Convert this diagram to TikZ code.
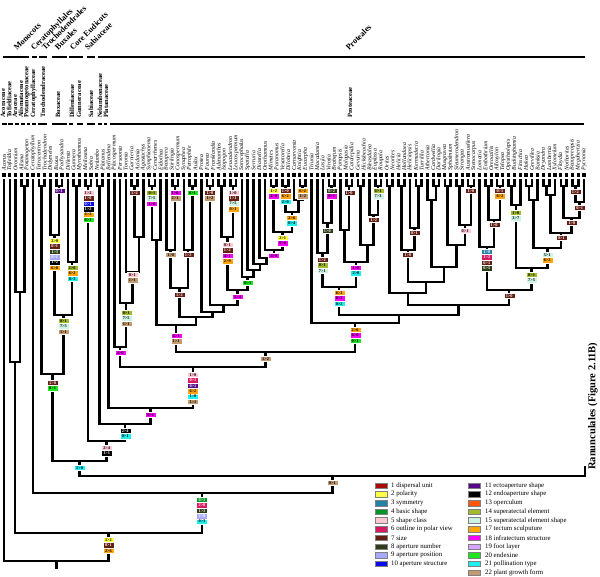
\documentclass[tikz,border=0pt]{standalone}
\usepackage{fontspec}
\setmainfont{Liberation Serif}
\usetikzlibrary{calc}
\definecolor{c1}{RGB}{170,10,10}
\definecolor{c2}{RGB}{255,255,70}
\definecolor{c3}{RGB}{35,130,165}
\definecolor{c4}{RGB}{0,150,40}
\definecolor{c5}{RGB}{255,200,210}
\definecolor{c6}{RGB}{215,25,95}
\definecolor{c7}{RGB}{100,30,20}
\definecolor{c8}{RGB}{45,60,25}
\definecolor{c9}{RGB}{165,170,255}
\definecolor{c10}{RGB}{10,10,235}
\definecolor{c11}{RGB}{85,10,135}
\definecolor{c12}{RGB}{0,0,0}
\definecolor{c13}{RGB}{255,85,10}
\definecolor{c14}{RGB}{160,185,45}
\definecolor{c15}{RGB}{205,242,228}
\definecolor{c17}{RGB}{255,165,10}
\definecolor{c18}{RGB}{255,0,255}
\definecolor{c19}{RGB}{215,165,255}
\definecolor{c20}{RGB}{30,230,30}
\definecolor{c21}{RGB}{30,240,240}
\definecolor{c22}{RGB}{195,155,115}
\tikzset{
  br/.style={line width=2.6pt, line join=miter},
  bar/.style={line width=2.4pt},
  taxon/.style={rotate=90, anchor=west, inner sep=0pt, font=\itshape\fontsize{5.8}{6}\selectfont},
  fam/.style={rotate=90, anchor=west, inner sep=0pt, font=\bfseries\fontsize{6.5}{7}\selectfont},
  grp/.style={rotate=45, anchor=base west, inner sep=0pt, font=\bfseries\fontsize{8.2}{9}\selectfont},
  cbox/.style={anchor=north, minimum width=11pt, minimum height=5.4pt, inner sep=0pt, draw=white, line width=0.2pt, font=\bfseries\fontsize{4.3}{4.3}\selectfont},
  sw/.style={draw=black!50, line width=0.3pt},
  leg/.style={anchor=west, inner sep=0pt, font=\fontsize{6.8}{7}\selectfont},
  k1/.style={fill=c1,text=white}, k2/.style={fill=c2}, k3/.style={fill=c3,text=white},
  k4/.style={fill=c4,text=white}, k5/.style={fill=c5}, k6/.style={fill=c6,text=white},
  k7/.style={fill=c7,text=white}, k8/.style={fill=c8,text=white}, k9/.style={fill=c9,text=white},
  k10/.style={fill=c10,text=white}, k11/.style={fill=c11,text=white}, k12/.style={fill=c12,text=white},
  k13/.style={fill=c13}, k14/.style={fill=c14}, k15/.style={fill=c15}, k17/.style={fill=c17},
  k18/.style={fill=c18}, k19/.style={fill=c19}, k20/.style={fill=c20}, k21/.style={fill=c21},
  k22/.style={fill=c22},
}
\newcommand\Lf[3]{%
  \pgfmathsetmacro\lfx{4+5.8*#2}%
  \coordinate (#1) at (\lfx,179);%
  \fill (\lfx-1.6,172.6) rectangle (\lfx+1.6,177.4);%
  \node[taxon] (n#1) at (\lfx,170.5) {#3};%
}
\newcommand\Nd[4]{%
  \path let \p1=(#3), \p2=(#4) in coordinate (#1) at ({0.5*\x1+0.5*\x2},{-#2pt});%
  \draw[br] (#3) |- (#1) -| (#4);%
}
\newcommand\NdX[5]{%
  \coordinate (#1) at (#2,#3);%
  \draw[br] (#4) |- (#1) -| (#5);%
}
\newcommand\Stk[3]{%
  \foreach \sty/\txt [count=\kk from 0] in {#3}{%
    \coordinate (aux) at (0,{#2+5.4*\kk});%
    \node[cbox,\sty] at (#1 |- aux) {\txt};%
  }%
}
\begin{document}
\begin{tikzpicture}[x=1pt,y=-1pt]
\fill[white] (0,0) rectangle (600,577);
\useasboundingbox (0,0) rectangle (600,577);
% group labels
\node[grp] (g1) at (17,51) {Monocots};
\node[grp] (g2) at (34,51) {Ceratophyllales};
\node[grp] (g3) at (45,51) {Trochodendrales};
\node[grp] (g4) at (58,51) {Buxales};
\node[grp] (g5) at (73,51) {Core Eudicots};
\node[grp] (g6) at (88,51) {Sabiaceae};
\node[grp] (g7) at (349,51) {Proteales};
\foreach \a/\b in {3/29,32/37,39/47,52/67,69/83,87/95,98/585}{\draw[bar] (\a,57) -- (\b,57);}
% family labels
\node[fam] (f1) at (3,118) {Acoraceae};
\node[fam] (f2) at (9,118) {Tofieldiaceae};
\node[fam] (f3) at (15,118) {Araceae};
\node[fam] (f4) at (21,118) {Alismataceae};
\node[fam] (f5) at (27,118) {Potamogetonaceae};
\node[fam] (f6) at (33.5,118) {Ceratophyllaceae};
\node[fam] (f7) at (43,118) {Trochodendraceae};
\node[fam] (f8) at (58,118) {Buxaceae};
\node[fam] (f9) at (72,118) {Dilleniaceae};
\node[fam] (f10) at (79,118) {Gunneraceae};
\node[fam] (f11) at (91,118) {Sabiaceae};
\node[fam] (f12) at (100,118) {Nelumbonaceae};
\node[fam] (f13) at (106,118) {Platanaceae};
\node[fam] (f14) at (350,118) {Proteaceae};
\foreach \a/\b in {2/7,8/13,15/19,21/25,27/30,32/36,38/47,52/67,69/73,77/83,87/95,98/102,104/107,110/584}{\draw[bar] (\a,124) -- (\b,124);}
% leaves
\Lf{L0}{0}{Acorus}\Lf{L1}{1}{Tofieldia}\Lf{L2}{2}{Orontium}\Lf{L3}{3}{Alisma}
\Lf{L4}{4}{Potamogeton}\Lf{L5}{5}{Ceratophyllum}\Lf{L6}{6}{Tetracentron}\Lf{L7}{7}{Trochodendron}
\Lf{L8}{8}{Didymeles}\Lf{L9}{9}{Buxus}\Lf{L10}{10}{Pachysandra}\Lf{L11}{11}{Dillenia}
\Lf{L12}{12}{Gunnera}\Lf{L13}{13}{Myrothamnus}\Lf{L14}{14}{Meliosma}\Lf{L15}{15}{Sabia}
\Lf{L16}{16}{Nelumbo}\Lf{L17}{17}{Platanus}\Lf{L18}{18}{Bellendena}\Lf{L19}{19}{Placospermum}
\Lf{L20}{20}{Persoonia}\Lf{L21}{21}{Toronia}\Lf{L22}{22}{Garnieria}\Lf{L23}{23}{Acidonia}
\Lf{L24}{24}{Agastachys}\Lf{L25}{25}{Symphionema}\Lf{L26}{26}{Cenarrhenes}\Lf{L27}{27}{Eidothea}
\Lf{L28}{28}{Beauprea}\Lf{L29}{29}{Stirlingia}\Lf{L30}{30}{Conospermum}\Lf{L31}{31}{Synaphea}
\Lf{L32}{32}{Petrophile}\Lf{L33}{33}{Aulax}\Lf{L34}{34}{Protea}\Lf{L35}{35}{Faurea}
\Lf{L36}{36}{Franklandia}\Lf{L37}{37}{Adenanthos}\Lf{L38}{38}{Isopogon}\Lf{L39}{39}{Leucadendron}
\Lf{L40}{40}{Leucospermum}\Lf{L41}{41}{Sorocephalus}\Lf{L42}{42}{Spatalla}\Lf{L43}{43}{Serruria}
\Lf{L44}{44}{Diastella}\Lf{L45}{45}{Orothamnus}\Lf{L46}{46}{Mimetes}\Lf{L47}{47}{Paranomus}
\Lf{L48}{48}{Vexatorella}\Lf{L49}{49}{Dilobeia}\Lf{L50}{50}{Carnarvonia}\Lf{L51}{51}{Knightia}
\Lf{L52}{52}{Eucarpha}\Lf{L53}{53}{Triunia}\Lf{L54}{54}{Macadamia}\Lf{L55}{55}{Lasjia}
\Lf{L56}{56}{Virotia}\Lf{L57}{57}{Brabejum}\Lf{L58}{58}{Panopsis}\Lf{L59}{59}{Malagasia}
\Lf{L60}{60}{Catalepidia}\Lf{L61}{61}{Gevuina}\Lf{L62}{62}{Hicksbeachia}\Lf{L63}{63}{Bleasdalea}
\Lf{L64}{64}{Euplassa}\Lf{L65}{65}{Roupala}\Lf{L66}{66}{Orites}\Lf{L67}{67}{Neorites}
\Lf{L68}{68}{Helicia}\Lf{L69}{69}{Hollandaea}\Lf{L70}{70}{Heliciopsis}\Lf{L71}{71}{Kermadecia}
\Lf{L72}{72}{Turrillia}\Lf{L73}{73}{Athertonia}\Lf{L74}{74}{Cardwellia}\Lf{L75}{75}{Darlingia}
\Lf{L76}{76}{Musgravea}\Lf{L77}{77}{Sphalmium}\Lf{L78}{78}{Sleumerodendron}\Lf{L79}{79}{Strangea}
\Lf{L80}{80}{Austromuellera}\Lf{L81}{81}{Stenocarpus}\Lf{L82}{82}{Lomatia}\Lf{L83}{83}{Embothrium}
\Lf{L84}{84}{Oreocallis}\Lf{L85}{85}{Alloxylon}\Lf{L86}{86}{Telopea}\Lf{L87}{87}{Opisthiolepis}
\Lf{L88}{88}{Buckinghamia}\Lf{L89}{89}{Finschia}\Lf{L90}{90}{Hakea}\Lf{L91}{91}{Grevillea}
\Lf{L92}{92}{Banksia}\Lf{L93}{93}{Dryandra}\Lf{L94}{94}{Lambertia}\Lf{L95}{95}{Xylomelum}
\Lf{L96}{96}{Floydia}\Lf{L97}{97}{Nothorites}\Lf{L98}{98}{Beaupreopsis}\Lf{L99}{99}{Megahertzia}
\Lf{L100}{100}{Pycnonia}
% tree: outgroups
\Nd{m3}{186}{L3}{L4}\Nd{m2}{292}{L2}{m3}\Nd{m1}{362}{L1}{m2}
\Nd{t1}{186}{L6}{L7}\Nd{b1}{186}{L9}{L10}\Nd{b2}{235}{L8}{b1}
\Nd{c1}{186}{L12}{L13}\Nd{c2}{262}{L11}{c1}\Nd{bc}{315}{b2}{c2}\Nd{tb}{374}{t1}{bc}
\Nd{s1}{186}{L14}{L15}\Nd{np}{186}{L16}{L17}
% Proteaceae
\Nd{p22}{186}{L22}{L23}\Nd{p24}{237}{p22}{L24}\Nd{p21}{272}{L21}{p24}
\Nd{p20}{303}{L20}{p21}\Nd{p19}{347}{L19}{p20}
\Nd{q25}{186}{L25}{L26}\Nd{q26}{240}{q25}{L27}
\Nd{q29}{186}{L29}{L30}\Nd{q28}{250}{L28}{q29}
\Nd{q32}{186}{L32}{L33}\Nd{q31}{250}{L31}{q32}\Nd{q30}{288}{q28}{q31}
\Nd{r35}{186}{L35}{L36}\Nd{r37}{186}{L37}{L38}\Nd{r39}{186}{L39}{L40}\Nd{r38}{237}{r37}{r39}
\Nd{s46}{186}{L46}{L47}\Nd{s48}{186}{L48}{L49}\Nd{s51}{186}{L51}{L52}\Nd{s50}{200}{L50}{s51}
\Nd{s49}{212}{s48}{s50}\Nd{s47}{232}{s46}{s49}\Nd{s45}{250}{L45}{s47}\Nd{s44}{258}{L44}{s45}
\Nd{s43}{264}{L43}{s44}\Nd{s42}{270}{L42}{s43}\Nd{S}{277}{L41}{s42}
\Nd{r41}{290}{r38}{S}\Nd{r36}{305}{r35}{r41}\Nd{r34}{312}{L34}{r36}
\Nd{N1}{317}{q30}{r34}\Nd{X165}{325}{q26}{N1}
\Nd{X334}{186}{L56}{L57}\Nd{X328}{223}{L55}{X334}\Nd{X322}{253}{L54}{X328}
\Nd{X349}{186}{L59}{L60}\Nd{X344}{230}{L58}{X349}
\Nd{X361}{186}{L61}{L62}\Nd{X378}{186}{L64}{L65}\Nd{X374}{215}{L63}{X378}
\Nd{X372}{245}{X361}{X374}\Nd{X350}{262}{X344}{X372}\Nd{X336}{287}{X322}{X350}
\Nd{X390}{186}{L66}{L67}\Nd{X401}{186}{L68}{L69}\Nd{X419}{186}{L71}{L72}
\Nd{X413}{228}{L70}{X419}\Nd{X412}{250}{X401}{X413}
\Nd{X436}{186}{L74}{L75}\Nd{X433}{200}{L73}{X436}
\Nd{X447}{186}{L76}{L77}\Nd{X459}{186}{L78}{L79}\Nd{X470}{186}{L80}{L81}
\Nd{X462}{225}{X459}{X470}\Nd{X453}{245}{X447}{X462}\Nd{X443}{267}{X433}{X453}
\Nd{X427}{282}{X412}{X443}\Nd{X407}{293}{X390}{X427}
\Nd{X486}{186}{L83}{L84}\Nd{X497}{186}{L85}{L86}\Nd{X494}{220}{X486}{X497}\Nd{X488}{247}{L82}{X494}
\Nd{X511}{186}{L87}{L88}\Nd{X515}{205}{X511}{L89}
\Nd{X529}{186}{L90}{L91}\Nd{X533}{200}{X529}{L92}
\Nd{X549}{186}{L93}{L94}\Nd{X550}{195}{X549}{L95}
\Nd{X564}{186}{L96}{L97}\Nd{X575}{186}{L98}{L99}\Nd{X578}{202}{X575}{L100}
\Nd{X569}{218}{X564}{X578}\Nd{X560}{233}{X550}{X569}\Nd{X547}{248}{X533}{X560}
\Nd{X532}{268}{X515}{X547}\Nd{X510}{290}{X488}{X532}\Nd{X460}{305}{X407}{X510}
\Nd{X400}{315}{X336}{X460}\Nd{X355}{323}{L53}{X400}\Nd{X262}{352}{X165}{X355}
\Nd{PR2}{367}{p19}{X262}\Nd{pr}{408}{L18}{PR2}\Nd{pl}{424}{np}{pr}
\Nd{sp}{441}{s1}{pl}\Nd{D}{461}{tb}{sp}
\coordinate (ran) at (585,466);
\Nd{C}{476}{D}{ran}
\NdX{B}{202}{493}{L5}{C}
\Nd{A}{533}{m1}{B}
\Nd{root}{561}{L0}{A}
\draw[br] (root) -- ++(0,8);
\node[rotate=90,anchor=west,inner sep=0pt,font=\bfseries\fontsize{10.5}{11}\selectfont] (ranl) at (593,470) {Ranunculales (Figure 2.11B)};
% character state boxes
\Stk{b1}{188}{k11/0>1}
\Stk{b2}{238}{k2/2>0,k7/0>1,k8/1>3,k9/0>1,k12/1>2,k17/6>8}
\Stk{c2}{265}{k14/1>0,k17/6>2,k21/0>3}
\Stk{bc}{318}{k14/0>1,k15/7>5,k22/1>1}
\Stk{s1}{190}{k5/1>2,k7/1>0,k10/0>1,k12/1>2,k17/6>2,k20/0>1}
\Stk{tb}{380}{k7/1>0,k20/0>1}
\Stk{sp}{445}{k5/2>4,k12/1>1}
\Stk{pl}{428}{k12/2>4,k21/0>1}
\Stk{pr}{412}{k18/0>1}
\Stk{PR2}{372}{k5/1>0,k6/0>1,k11/0>1,k17/6>2,k21/1>0,k22/1>1}
\Stk{X262}{356}{k22/1>2}
\Stk{D}{465}{k21/1>0}
\Stk{C}{480}{k22/0>1}
\Stk{B}{497}{k4/0>1,k6/2>0,k8/1>3,k9/2>0,k21/0>3}
\Stk{A}{537}{k2/1>2,k7/0>1,k17/2>6}
\Stk{p22}{190}{k7/1>2}
\Stk{p21}{272}{k5/0>1,k22/1>1}
\Stk{p20}{310}{k14/0>1,k15/7>5,k22/1>1}
\Stk{p19}{350}{k18/4>0}
\Stk{q25}{190}{k14/0>1,k15/7>5,k18/1>0}
\Stk{q29}{190}{k18/1>0,k22/2>1}
\Stk{q32}{190}{k20/0>1}
\Stk{q28}{252}{k22/1>0}
\Stk{q31}{252}{k7/1>2}
\Stk{q30}{292}{k7/1>2}
\Stk{X165}{333}{k18/4>1,k22/1>1}
\Stk{r35}{190}{k7/1>0,k22/1>2}
\Stk{r39}{190}{k5/1>0,k7/1>1,k15/7>5,k17/0>1}
\Stk{r38}{242}{k5/0>1,k7/1>2,k18/4>1,k17/2>9}
\Stk{r41}{294}{k18/1>4}
\Stk{S}{280}{k20/0>1}
\Stk{s45}{253}{k18/4>0}
\Stk{s47}{235}{k2/2>1,k18/0>8}
\Stk{s49}{215}{k17/2>6,k21/0>4}
\Stk{s46}{188}{k2/1>2,k18/4>0}
\Stk{s48}{188}{k7/1>0,k17/6>2,k21/2>0}
\Stk{s51}{188}{k17/6>2,k22/1>2}
\Stk{X355}{327}{k17/2>6,k18/4>0,k20/0>1}
\Stk{X336}{290}{k17/6>2,k18/0>3,k21/0>2}
\Stk{X322}{257}{k7/1>2,k14/0>1,k15/7>1}
\Stk{X328}{228}{k8/1>0}
\Stk{X334}{188}{k8/0>2,k18/0>1}
\Stk{X349}{190}{k7/1>0}
\Stk{X350}{265}{k18/1>0,k21/2>0}
\Stk{X378}{188}{k14/0>1,k15/7>3}
\Stk{X374}{217}{k7/1>2}
\Stk{X412}{252}{k7/1>0}
\Stk{X413}{230}{k7/0>1}
\Stk{X462}{228}{k5/0>1}
\Stk{X470}{188}{k7/1>0}
\Stk{X497}{188}{k7/0>1,k17/6>2}
\Stk{X494}{222}{k7/1>0}
\Stk{X488}{249}{k3/1>0,k6/1>2,k7/0>1,k8/6>5}
\Stk{X515}{210}{k14/1>0,k15/3>7}
\Stk{X532}{272}{k14/0>1,k15/7>5}
\Stk{X547}{252}{k15/5>1,k17/6>2}
\Stk{X575}{189}{k7/1>2}
\Stk{X578}{205}{k7/0>1}
\Stk{X569}{220}{k7/1>0}
\Stk{X560}{235}{k7/0>1}
\Stk{X510}{293}{k7/1>0}
% legend
\foreach \c/\t [count=\i from 0] in {c1/1 dispersal unit,c2/2 polarity,c3/3 symmetry,c4/4 basic shape,c5/5 shape class,c6/6 outline in polar view,c7/7 size,c8/8 aperture number,c9/9 aperture position,c10/10 aperture structure}{
  \fill[sw,fill=\c] (375,{482.8+8.7*\i}) rectangle (387,{488.3+8.7*\i});
  \node[leg] (la\i) at (391,{485.6+8.7*\i}) {\t};
}
\foreach \c/\t [count=\i from 0] in {c11/11 ectoaperture shape,c12/12 endoaperture shape,c13/13 operculum,c14/14 superatectal element,c15/15 superatectal element shape,c17/17 tectum sculputure,c18/18 infratectum structure,c19/19 foot layer,c20/20 endexine,c21/21 pollination type,c22/22 plant growth form}{
  \fill[sw,fill=\c] (468,{482.8+8.7*\i}) rectangle (480,{488.3+8.7*\i});
  \node[leg] (lb\i) at (485,{485.6+8.7*\i}) {\t};
}
\end{tikzpicture}
\end{document}
